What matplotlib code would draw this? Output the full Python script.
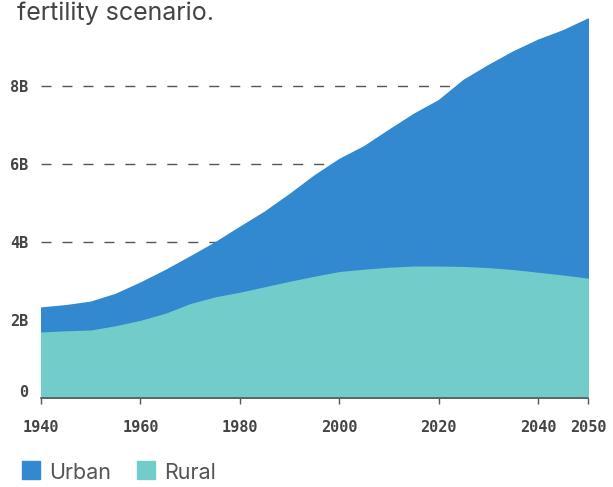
import matplotlib
matplotlib.use('Agg')
from matplotlib import pyplot as plt
from matplotlib.patches import Rectangle
from matplotlib import transforms

# data (billions of people)
years = [1940, 1945, 1950, 1955, 1960, 1965, 1970, 1975, 1980, 1985, 1990, 1995,
         2000, 2005, 2010, 2015, 2020, 2025, 2030, 2035, 2040, 2045, 2050]
rural = [1.72, 1.75, 1.77, 1.88, 2.02, 2.20, 2.45, 2.62, 2.74, 2.88, 3.02, 3.15,
         3.27, 3.33, 3.38, 3.41, 3.41, 3.40, 3.37, 3.32, 3.25, 3.18, 3.10]
urban = [0.59, 0.62, 0.69, 0.78, 0.93, 1.07, 1.17, 1.36, 1.64, 1.89, 2.20, 2.55,
         2.85, 3.12, 3.49, 3.87, 4.22, 4.75, 5.16, 5.56, 5.93, 6.24, 6.62]
x_ticks = [1940, 1960, 1980, 2000, 2020, 2040, 2050]
y_ticks = [0, 2, 4, 6, 8]
y_labels = ['0', '2B', '4B', '6B', '8B']

blue = '#3389d0'
teal = '#72cdca'
grey = '#444444'

fig = plt.figure(figsize=(6.13, 4.87), dpi=100)
ax = fig.add_axes([41/613, 1-398/487, 547/613, 390/487])

polys = ax.stackplot(years, rural, urban, colors=[teal, blue], zorder=3)
for p, c in zip(polys, [teal, blue]):
    p.set_edgecolor(c)
    p.set_linewidth(1.5)
    p.set_joinstyle('round')

ax.set_xlim(1940, 2050)
ax.set_ylim(0, 10)

# dashed grid lines
for v in y_ticks[1:]:
    ax.axhline(v, color='#555555', lw=1, dashes=(7.2, 7.9), zorder=1)

for s in ['top', 'right', 'left']:
    ax.spines[s].set_visible(False)
ax.spines['bottom'].set_color('#555555')
ax.spines['bottom'].set_linewidth(1.2)
ax.spines['bottom'].set_zorder(4)

mono = {'family': 'DejaVu Sans Mono', 'weight': 'bold', 'size': 11}
ax.set_xticks(x_ticks)
ax.set_xticklabels([str(x) for x in x_ticks], fontdict=mono, color=grey)
ax.set_yticks(y_ticks)
ax.set_yticklabels(y_labels, fontdict=mono, color=grey)
ax.tick_params(axis='x', length=4, width=1, color='#555555', pad=12)
ax.tick_params(axis='y', length=0, pad=9)

# nudge the "0" label up a bit
lab0 = ax.get_yticklabels()[0]
lab0.set_transform(lab0.get_transform() + transforms.ScaledTranslation(0, 5/72, fig.dpi_scale_trans))

# subtitle fragment at top
fig.text(17/613, 1-20/487, 'fertility scenario.', family='Inter', fontsize=18,
         color=grey, va='baseline', ha='left')

# legend
fig.add_artist(Rectangle((22/613, 1-479/487), 18/613, 18/487, transform=fig.transFigure,
                         color=blue))
fig.text(49/613, 1-479/487, 'Urban', family='Inter', fontsize=15.5, color='#555555',
         va='baseline')
fig.add_artist(Rectangle((137/613, 1-479/487), 18/613, 18/487, transform=fig.transFigure,
                         color=teal))
fig.text(164/613, 1-479/487, 'Rural', family='Inter', fontsize=15.5, color='#555555',
         va='baseline')

plt.savefig('out.png', dpi=100)
